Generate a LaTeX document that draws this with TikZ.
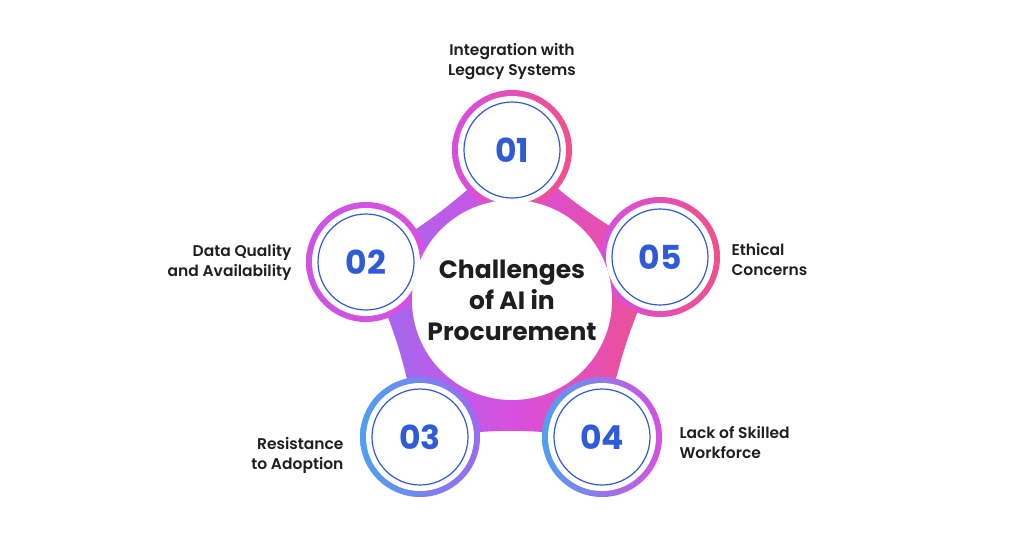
\documentclass[tikz,border=0pt]{standalone}
\usetikzlibrary{calc}
\usepackage{fontspec}
\setmainfont{Poppins}
\newfontfamily\semi{Poppins SemiBold}
\definecolor{numblue}{HTML}{2F5BD9}
\definecolor{cpink}{HTML}{F0508A}
\definecolor{cmag}{HTML}{D84FE0}
\definecolor{cviol}{HTML}{9B6BF0}
\definecolor{cblue}{HTML}{4FA0F0}
\definecolor{txt}{HTML}{1E1E1E}
\begin{document}
\begin{tikzpicture}[x=1pt,y=-1pt,
  lab/.style={font=\semi\fontsize{15.5}{20}\selectfont, text=txt, align=center},
  num/.style={font=\fontsize{33}{34}\selectfont\bfseries, text=numblue},
  disc/.style={circle, fill=white, draw=numblue, line width=1.2pt, minimum size=96pt, inner sep=0pt}]
\useasboundingbox (0,0) rectangle (1024,539);
\coordinate (c) at (512,300);
\coordinate (p1) at (512,150);
\coordinate (p2) at (366,262);
\coordinate (p3) at (420,437);
\coordinate (p4) at (602,437);
\coordinate (p5) at (660,257);
% body
\shade[left color=cviol, right color=cpink, middle color=cmag]
  (p1) .. controls ($(p1)!0.5!(p5)!0.06!(c)$) .. (p5)
       .. controls ($(p5)!0.5!(p4)!0.06!(c)$) .. (p4)
       .. controls ($(p4)!0.5!(p3)!0.06!(c)$) .. (p3)
       .. controls ($(p3)!0.5!(p2)!0.06!(c)$) .. (p2)
       .. controls ($(p2)!0.5!(p1)!0.06!(c)$) .. cycle;
% rings
\shade[left color=cmag, right color=cpink] (p1) circle (60);
\shade[left color=cmag!80!cviol, right color=cmag] (p2) circle (60);
\shade[left color=cmag, right color=cpink] (p5) circle (60);
\shade[left color=cblue, right color=cviol] (p3) circle (60);
\shade[left color=cblue, right color=cmag] (p4) circle (60);
\fill[white] (c) circle (100);
\node[align=center, font=\fontsize{25}{31}\selectfont\bfseries, text=txt] (t) at (c) {Challenges\\of AI in\\Procurement};
\foreach \i in {1,...,5}{
  \fill[white] (p\i) circle (54);
  \node[disc, num] (n\i) at (p\i) {0\i};
}
\node[lab] (l1) at (512,62) {Integration with\\Legacy Systems};
\node[lab, anchor=east, align=right] (l2) at (295,262) {Data Quality\\and Availability};
\node[lab, anchor=east, align=right] (l3) at (347,455) {Resistance\\to Adoption};
\node[lab, anchor=west, align=left] (l4) at (676,442) {Lack of Skilled\\Workforce};
\node[lab, anchor=west, align=left] (l5) at (728,259) {Ethical\\Concerns};
\end{tikzpicture}
\end{document}
